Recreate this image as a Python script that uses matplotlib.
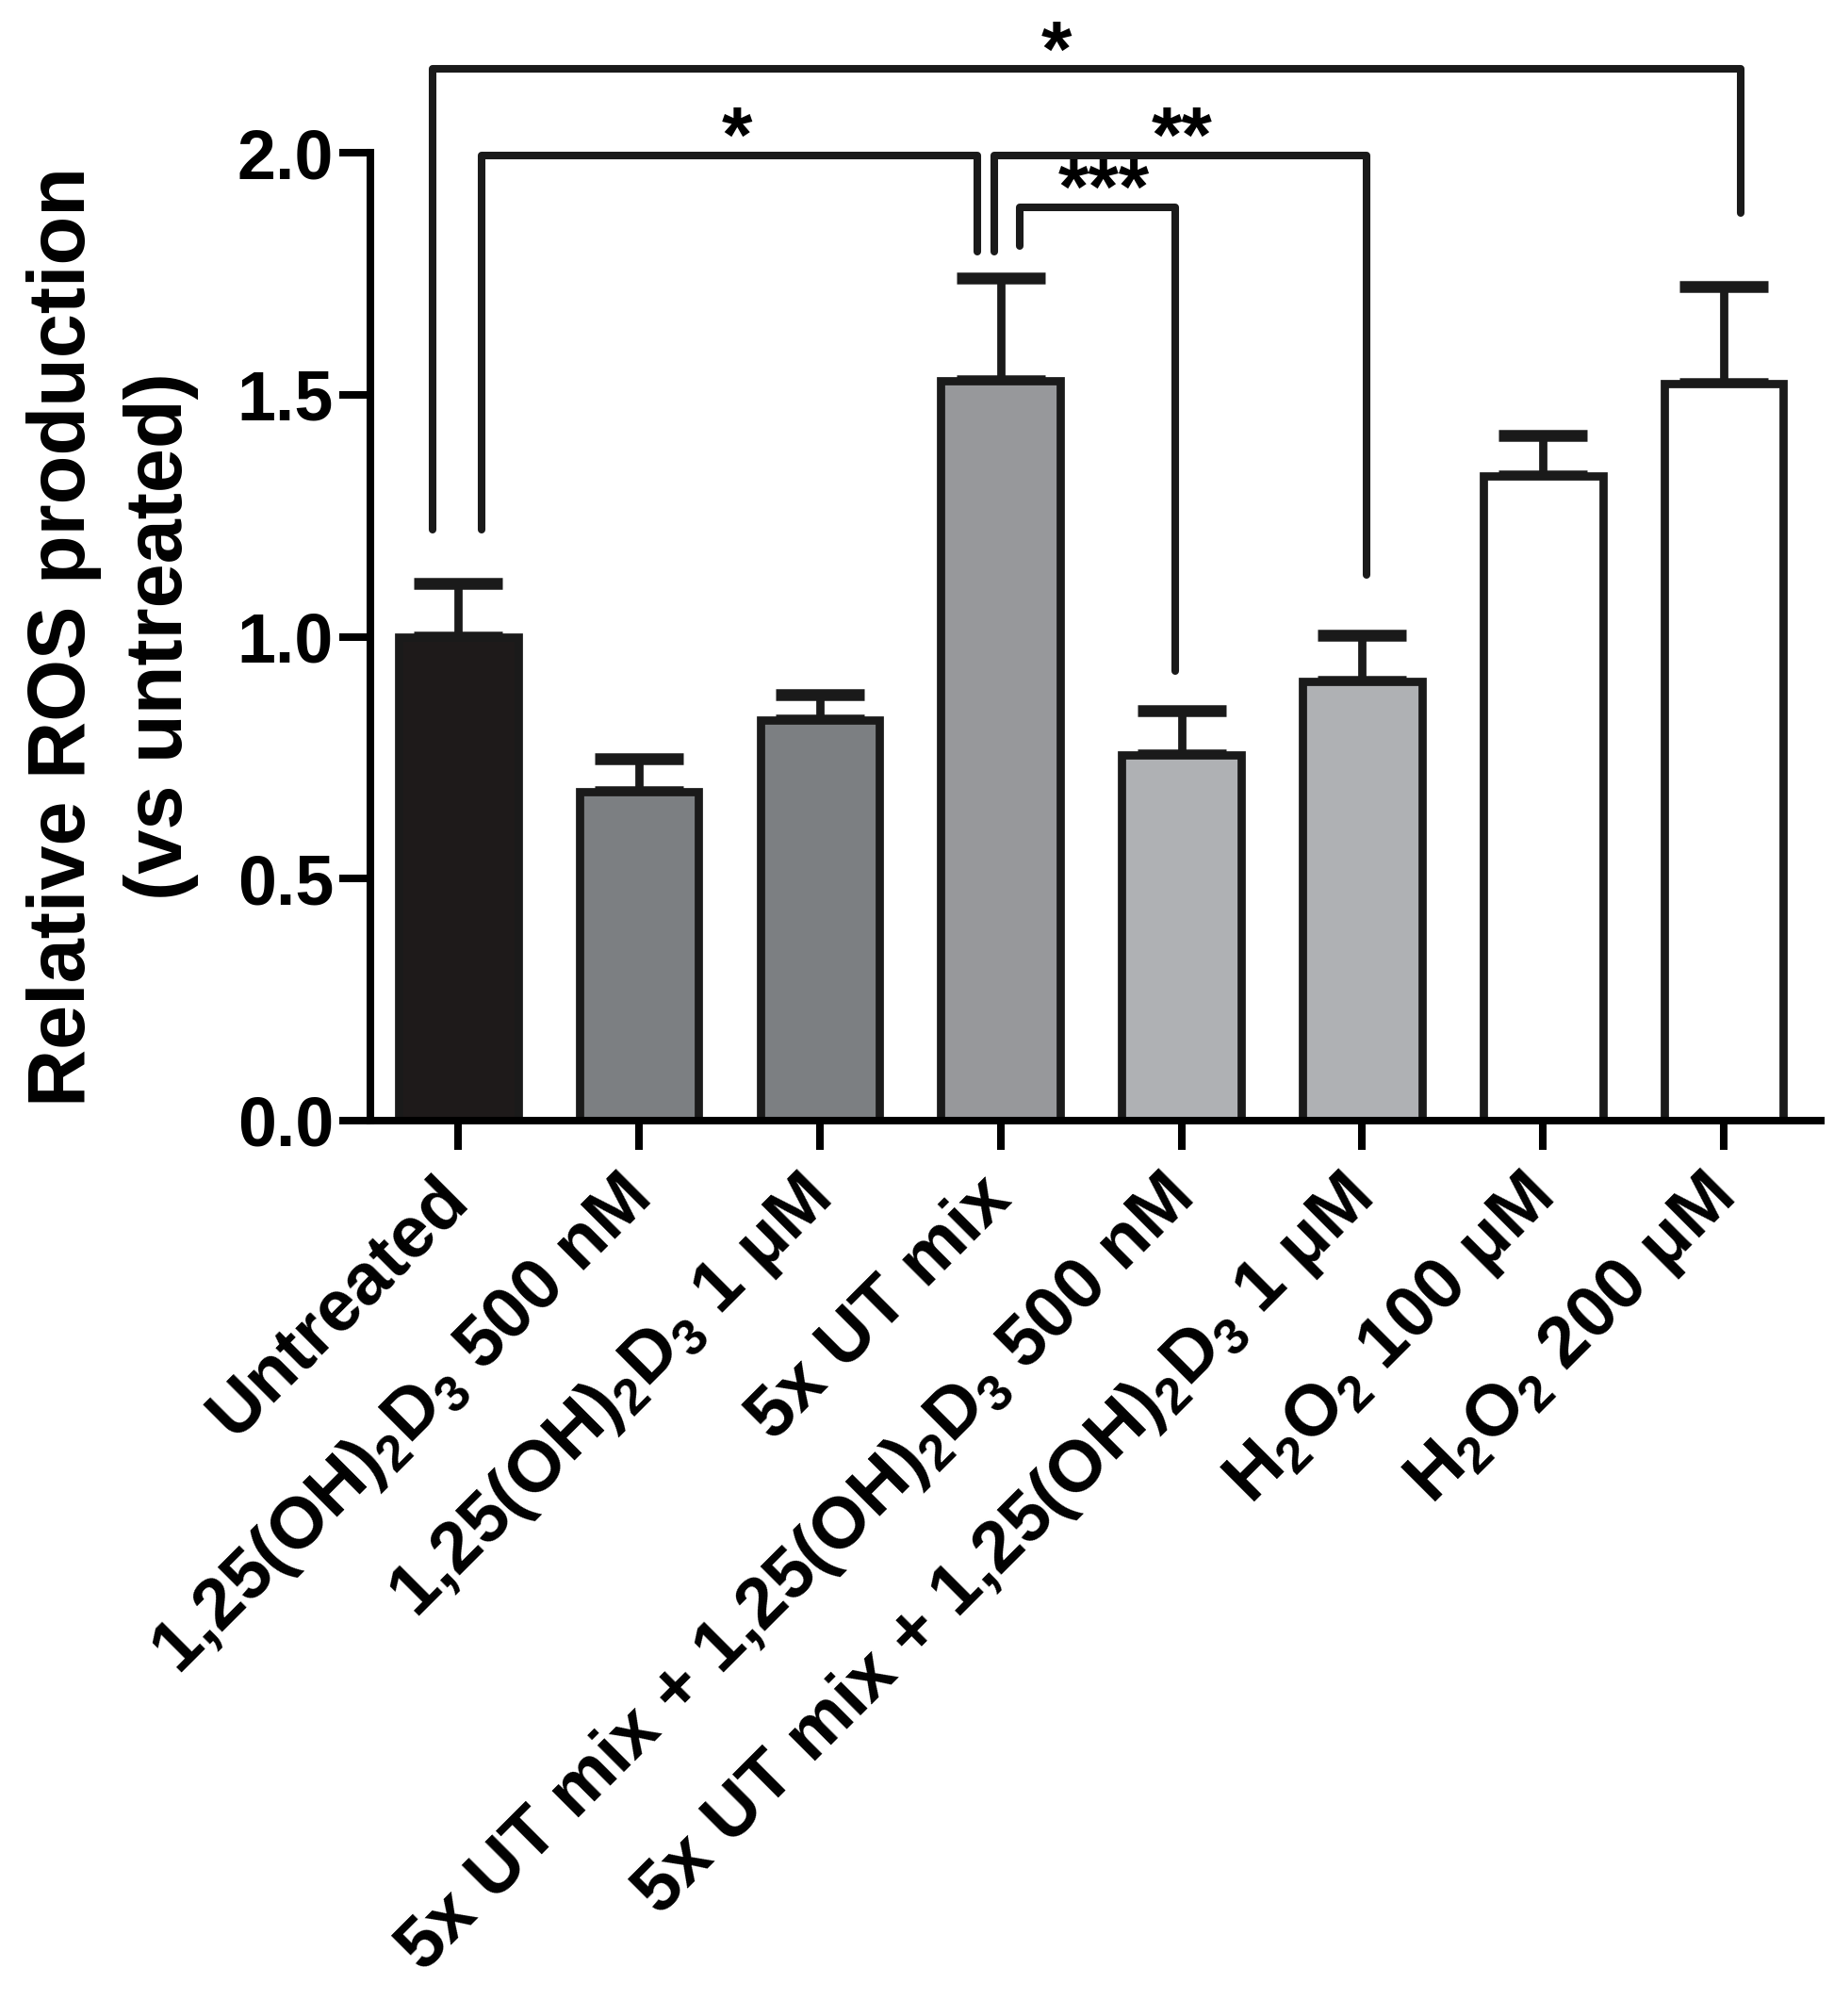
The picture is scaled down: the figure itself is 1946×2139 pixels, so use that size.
import numpy as np
import matplotlib
matplotlib.use('Agg')
import matplotlib.pyplot as plt

plt.rcParams['font.family'] = ['Liberation Sans', 'DejaVu Sans']
plt.rcParams['font.weight'] = 'bold'
plt.rcParams['mathtext.fontset'] = 'custom'
plt.rcParams['mathtext.rm'] = 'Liberation Sans:bold'
plt.rcParams['mathtext.it'] = 'Liberation Sans:bold'
plt.rcParams['mathtext.bf'] = 'Liberation Sans:bold'
plt.rcParams['mathtext.default'] = 'rm'

# data
labels = ['Untreated',
          '1,25(OH)$_2$D$_3$ 500 nM',
          '1,25(OH)$_2$D$_3$ 1 μM',
          '5x UT mix',
          '5x UT mix + 1,25(OH)$_2$D$_3$ 500 nM',
          '5x UT mix + 1,25(OH)$_2$D$_3$ 1 μM',
          'H$_2$O$_2$ 100 μM',
          'H$_2$O$_2$ 200 μM']
means = [1.00, 0.68, 0.827, 1.528, 0.755, 0.907, 1.333, 1.523]
sem = [0.11, 0.067, 0.053, 0.213, 0.093, 0.096, 0.083, 0.20]
colors = ['#1e1a1a', '#7c7f82', '#7c7f82', '#97989b', '#afb1b4', '#afb1b4', 'white', 'white']

# significance brackets: x left, x right, top y, left leg end, right leg end, label, label x
brackets = [
    (-0.143, 7.093, 2.173, 1.221, 1.875, '*', 3.31),
    (0.129, 2.871, 1.995, 1.221, 1.795, '*', 1.54),
    (2.964, 5.021, 1.995, 1.795, 1.128, '**', 4.0),
    (3.107, 3.964, 1.888, 1.808, 0.928, '***', 3.57),
]

fig = plt.figure(figsize=(19.46, 21.39), dpi=100)
ax = fig.add_axes([393/1946, 950/2139, 1539/1946, 1181/2139])

x = np.arange(len(means))
lw = 6.3
ax.errorbar(x, means, yerr=[np.zeros(len(sem)), sem], fmt='none', ecolor='#1a1a1a',
            elinewidth=lw, capsize=34, capthick=9, zorder=1)
ax.bar(x, means, width=0.66, color=colors, edgecolor='#1a1a1a', linewidth=lw, zorder=2)

for x1, x2, y, e1, e2, lab, lx in brackets:
    ax.plot([x1, x1, x2, x2], [e1, y, y, e2], color='#1a1a1a', lw=5.8,
            solid_joinstyle='round', solid_capstyle='round', clip_on=False)
    ax.text(lx, y - 0.015, lab, ha='center', va='baseline',
            fontsize=60, fontweight='bold')

ax.set_xlim(-0.486, 7.536)
ax.set_ylim(0, 2.3)
ax.set_yticks([0, 0.5, 1.0, 1.5, 2.0])
ax.set_yticklabels(['0.0', '0.5', '1.0', '1.5', '2.0'])
ax.set_xticks(x)
ax.set_xticklabels(labels, rotation=45, ha='right', va='center', rotation_mode='anchor')

for s in ['top', 'right']:
    ax.spines[s].set_visible(False)
ax.spines['left'].set_bounds(0, 2.0)
ax.spines['left'].set_linewidth(5.8)
ax.spines['bottom'].set_linewidth(5.8)
ax.tick_params(axis='y', length=24, width=5.8, labelsize=53, pad=4)
ax.tick_params(axis='x', length=22, width=5.8, labelsize=55, pad=30)

ax.set_ylabel('Relative ROS production\n(vs untreated)', fontsize=61, fontweight='bold',
              linespacing=1.38, labelpad=18)
ax.yaxis.set_label_coords(-0.118, 1.0 / 2.3)

fig.savefig('out.png', dpi=100)
